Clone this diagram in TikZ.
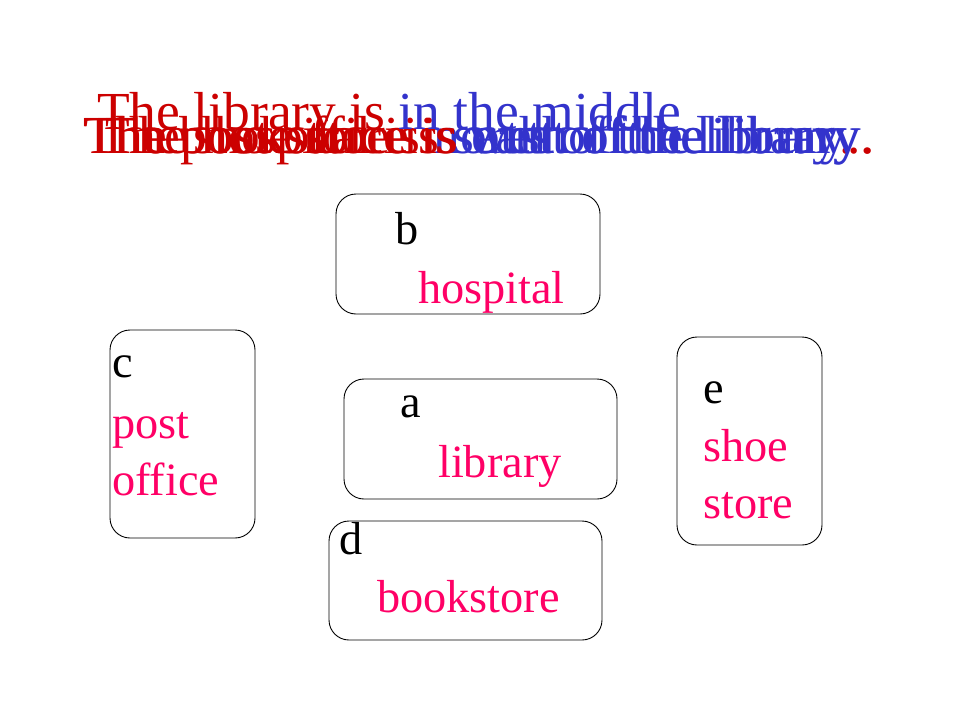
\documentclass[tikz,border=0pt]{standalone}
\usepackage{fontspec}
\setmainfont{Liberation Serif}
\definecolor{hred}{RGB}{204,0,0}
\definecolor{hblue}{RGB}{51,51,204}
\definecolor{pink}{RGB}{255,0,102}
\begin{document}
\begin{tikzpicture}[x=1pt,y=-1pt,
  box/.style={draw=black,line width=0.9pt,rounded corners=20pt,inner sep=0pt},
  lbl/.style={anchor=base west,inner sep=0pt,text=black,font=\fontsize{46.3}{55}\selectfont},
  word/.style={anchor=base west,inner sep=0pt,text=pink,font=\fontsize{46.3}{55}\selectfont},
  head/.style={inner sep=0pt,font=\fontsize{53.5}{60}\selectfont}]
\useasboundingbox[fill=white] (0,0) rectangle (960,720);
% heading sentences
\node[head,anchor=base] (s2) at (479,153) {\textcolor{hred}{The hospital is }\textcolor{hblue}{north of the library}\textcolor{hred}{.}};
\node[head,anchor=base] (s3) at (479,153) {\textcolor{hred}{The post office is }\textcolor{hblue}{west of the library}\textcolor{hred}{.}};
\node[head,anchor=base] (s4) at (479,153) {\textcolor{hred}{The bookstore is }\textcolor{hblue}{south of the library}\textcolor{hred}{.}};
\node[head,anchor=base] (s5) at (479,153) {\textcolor{hred}{The shoe store is }\textcolor{hblue}{east of the library}\textcolor{hred}{.}};
\node[head,anchor=base west] (s1) at (97,129) {\textcolor{hred}{The library is }\textcolor{hblue}{in the middle}};
% boxes
\node[box,minimum width=264pt,minimum height=120pt] (boxb) at (468,254) {};
\node[box,minimum width=145pt,minimum height=208pt] (boxc) at (182.5,434) {};
\node[box,minimum width=273pt,minimum height=120pt] (boxa) at (480.5,439) {};
\node[box,minimum width=273pt,minimum height=119pt] (boxd) at (465.5,580.5) {};
\node[box,minimum width=145pt,minimum height=208pt] (boxe) at (749.5,441) {};
% labels
\node[lbl] (lb) at (395,244) {b};
\node[word] (wb) at (418,303) {hospital};
\node[lbl] (lc) at (112,377) {c};
\node[word] (wc1) at (112,438) {post};
\node[word] (wc2) at (112,495) {office};
\node[lbl] (la) at (400,417) {a};
\node[word] (wa) at (438,477) {library};
\node[lbl] (ld) at (339,554) {d};
\node[word] (wd) at (377,612) {bookstore};
\node[lbl] (le) at (703,403) {e};
\node[word] (we1) at (703,461) {shoe};
\node[word] (we2) at (703,518) {store};
\end{tikzpicture}
\end{document}
